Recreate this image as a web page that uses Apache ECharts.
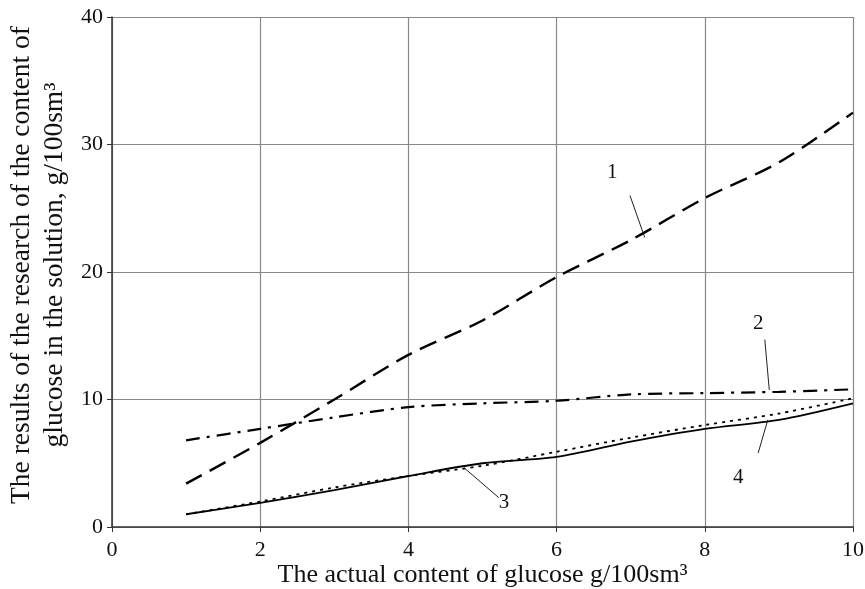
<!DOCTYPE html>
<html>
<head>
<meta charset="utf-8">
<script src="https://cdn.jsdelivr.net/npm/echarts@6/dist/echarts.min.js"></script>
<style>
  html, body { margin: 0; padding: 0; background: #fff; }
  #chart { width: 865px; height: 589px; }
</style>
</head>
<body>
<div id="chart"></div>
<script>
var xs = [1, 2, 3, 4, 5, 6, 7, 8, 9, 10];
var curve1 = [3.4, 6.6, 10.0, 13.5, 16.2, 19.6, 22.5, 25.8, 28.6, 32.5];
var curve2 = [6.8, 7.7, 8.6, 9.4, 9.7, 9.9, 10.4, 10.5, 10.6, 10.8];
var curve3 = [1.0, 1.9, 2.9, 4.0, 5.0, 5.5, 6.7, 7.7, 8.4, 9.7];
var curve4 = [1.0, 2.0, 3.1, 4.0, 4.8, 5.9, 7.0, 8.0, 8.9, 10.1];

// curve numbers and their leader lines, in data coordinates
var tagText = ['1', '2', '3', '4'];
var tagPos = [[6.75, 27.8], [8.72, 16.0], [5.29, 1.9], [8.45, 3.9]];
var leaders = [
  [[6.99, 26.0], [7.19, 22.7]],
  [[8.81, 14.7], [8.87, 10.75]],
  [[4.76, 4.6], [5.22, 2.3]],
  [[8.72, 5.8], [8.85, 8.4]]
];

function pairs(ys) {
  return xs.map(function (x, i) { return [x, ys[i]]; });
}

var font = '"Liberation Serif", "Times New Roman", serif';

function curve(ys, dash, width) {
  return {
    type: 'line',
    data: pairs(ys),
    smooth: 0.3,
    symbol: 'none',
    silent: true,
    lineStyle: { color: '#000', width: width, type: dash }
  };
}

var myChart = echarts.init(document.getElementById('chart'));
var option = {
  backgroundColor: '#fff',
  animation: false,
  grid: { left: 112, right: 12, top: 17, bottom: 62, containLabel: false, outerBoundsMode: 'none' },
  xAxis: {
    type: 'value',
    min: 0, max: 10, interval: 2,
    name: 'The actual content of glucose g/100sm³',
    nameLocation: 'middle',
    nameGap: 35,
    nameMoveOverlap: false,
    nameTextStyle: { fontFamily: font, fontSize: 26, color: '#111' },
    axisLine: { onZero: false, lineStyle: { color: '#333', width: 1.5 } },
    axisTick: { show: true, inside: false, length: 5, lineStyle: { color: '#333' } },
    axisLabel: { fontFamily: font, fontSize: 22, color: '#111', margin: 12 },
    splitLine: { show: true, lineStyle: { color: '#888', width: 1.2 } }
  },
  yAxis: {
    type: 'value',
    min: 0, max: 40, interval: 10,
    name: 'The results of the research of the content of\nglucose in the solution, g/100sm³',
    nameLocation: 'middle',
    nameGap: 41,
    nameMoveOverlap: false,
    nameTextStyle: { fontFamily: font, fontSize: 27.5, color: '#111', lineHeight: 33, padding: [0, 0, 0, 14] },
    axisLine: { show: true, lineStyle: { color: '#333', width: 1.5 } },
    axisTick: { show: true, length: 5, lineStyle: { color: '#333' } },
    axisLabel: { fontFamily: font, fontSize: 22, color: '#111', margin: 9 },
    splitLine: { show: true, lineStyle: { color: '#888', width: 1.2 } }
  },
  series: [
    curve(curve1, [18, 9], 2.4),
    curve(curve2, [14, 7, 3, 7], 2.2),
    curve(curve3, 'solid', 1.8),
    curve(curve4, [3, 5], 1.8),
    {
      type: 'line',
      data: [],
      silent: true,
      markLine: {
        symbol: 'none',
        silent: true,
        label: { show: false },
        lineStyle: { color: '#222', width: 1, type: 'solid' },
        data: leaders.map(function (l) {
          return [{ coord: l[0] }, { coord: l[1] }];
        })
      },
      markPoint: {
        symbol: 'circle',
        symbolSize: 1,
        itemStyle: { color: 'rgba(0,0,0,0)' },
        label: {
          show: true,
          position: 'inside',
          fontFamily: font,
          fontSize: 21,
          color: '#111',
          formatter: function (p) { return p.name; }
        },
        data: tagPos.map(function (p, i) {
          return { name: tagText[i], coord: p };
        })
      }
    }
  ]
};
option && myChart.setOption(option);
</script>
</body>
</html>
